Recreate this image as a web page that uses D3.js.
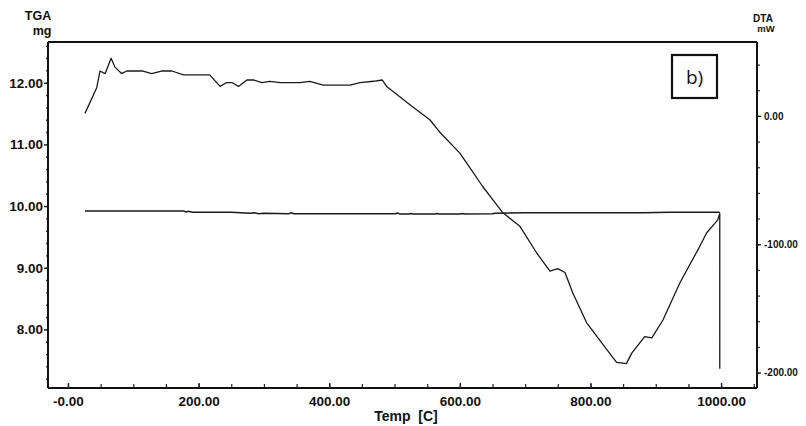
<!DOCTYPE html>
<html>
<head>
<meta charset="utf-8">
<script src="https://cdn.jsdelivr.net/npm/d3@7"></script>
<style>
  body { margin: 0; background: #fff; }
  svg { font-family: "Liberation Sans", Arial, sans-serif; }
</style>
</head>
<body>
<div id="chart"></div>
<script>
const WIDTH = 806;
const HEIGHT = 426;

// DTA curve (right axis, mW) vs temperature
const dtaTemp = [26, 44, 49, 57, 66, 72, 82, 90, 115, 128, 143, 159, 177, 217, 233, 243, 251, 261, 274, 284,
  297, 309, 325, 355, 370, 391, 432, 447, 468, 481, 488, 508, 528, 554, 569, 600, 615, 635, 653, 666, 692,
  718, 738, 750, 761, 773, 794, 819, 840, 855, 863, 883, 894, 911, 937, 967, 978, 995, 998, 998, 998];
const dtaValues = [2, 22, 35, 33, 45, 38, 33, 35, 35, 33, 35, 35, 32, 32, 23, 26, 26, 23, 28, 28,
  26, 27, 26, 26, 27, 24, 24, 26, 27, 28, 23, 15, 7, -3, -12.5, -29, -40, -55, -67, -75.5, -86,
  -107, -121, -119, -122, -138, -161, -178, -192, -193, -185, -172, -173, -159, -130, -102, -91, -81, -76, -135, -197];

// TGA curve (left axis, mg) vs temperature
const tgaTemp = [26, 120, 177, 181, 184, 191, 250, 279, 285, 292, 300, 320, 338, 342, 346, 400, 500, 505, 508,
  522, 525, 528, 562, 565, 568, 600, 604, 608, 650, 654, 658, 700, 780, 845, 880, 922, 960, 998];
const tgaValues = [9.92, 9.92, 9.92, 9.905, 9.915, 9.90, 9.90, 9.885, 9.89, 9.875, 9.885, 9.88, 9.875, 9.89, 9.875,
  9.875, 9.875, 9.885, 9.87, 9.87, 9.88, 9.87, 9.87, 9.88, 9.87, 9.87, 9.88, 9.87, 9.875, 9.885, 9.885,
  9.89, 9.89, 9.89, 9.89, 9.90, 9.90, 9.90];

const tempTicks = [0, 200, 400, 600, 800, 1000];
const tgaTicks = [8, 9, 10, 11, 12];
const dtaTicks = [0, -100, -200];

const svg = d3.select('#chart').append('svg').attr('width', WIDTH).attr('height', HEIGHT);

const plot = { left: 48, right: 757, top: 42, bottom: 388 };

const x = d3.scaleLinear().domain([-30.6, 1055]).range([plot.left, plot.right]);
const yL = d3.scaleLinear().domain([7.05, 12.66]).range([plot.bottom, plot.top]);
const yR = d3.scaleLinear().domain([-212, 57.6]).range([plot.bottom, plot.top]);

const fmt = (d) => (d < 0 ? '-' : '') + Math.abs(d).toFixed(2);

// frame top line
svg.append('line')
  .attr('x1', plot.left).attr('x2', plot.right)
  .attr('y1', plot.top).attr('y2', plot.top)
  .attr('stroke', '#111').attr('stroke-width', 2);

// bottom axis (ticks inside)
const xMinor = d3.range(0, 1051, 50);
svg.append('g')
  .attr('transform', `translate(0,${plot.bottom})`)
  .call(d3.axisBottom(x).tickValues(xMinor).tickSize(-4).tickFormat(''))
  .call((g) => g.select('.domain').remove())
  .call((g) => g.selectAll('line').attr('stroke', '#222').attr('stroke-width', 1.2));
const xAxis = svg.append('g')
  .attr('transform', `translate(0,${plot.bottom})`)
  .call(d3.axisBottom(x).tickValues(tempTicks).tickSize(-5).tickPadding(8)
    .tickFormat((d) => (d === 0 ? '-0.00' : fmt(d))));
xAxis.select('.domain').attr('d', `M${plot.left},0H${plot.right}`).attr('stroke', '#111').attr('stroke-width', 2.2);
xAxis.selectAll('line').attr('stroke', '#222').attr('stroke-width', 1.4);
xAxis.selectAll('text').attr('fill', '#111').attr('font-size', 13.5).attr('font-weight', 'bold');

// left axis
const yLMinor = d3.range(7.2, 12.61, 0.2);
svg.append('g')
  .attr('transform', `translate(${plot.left},0)`)
  .call(d3.axisLeft(yL).tickValues(yLMinor).tickSize(2).tickFormat(''))
  .call((g) => g.select('.domain').remove())
  .call((g) => g.selectAll('line').attr('stroke', '#333').attr('stroke-width', 1.4));
const yLAxis = svg.append('g')
  .attr('transform', `translate(${plot.left},0)`)
  .call(d3.axisLeft(yL).tickValues(tgaTicks).tickSize(4).tickPadding(1).tickFormat(fmt));
yLAxis.select('.domain').attr('d', `M0,${plot.top}V${plot.bottom}`).attr('stroke', '#111').attr('stroke-width', 2);
yLAxis.selectAll('line').attr('stroke', '#222').attr('stroke-width', 1.4);
yLAxis.selectAll('text').attr('fill', '#111').attr('font-size', 13.5).attr('font-weight', 'bold');

// right axis
const yRMinor = d3.range(-200, 41, 20);
svg.append('g')
  .attr('transform', `translate(${plot.right},0)`)
  .call(d3.axisRight(yR).tickValues(yRMinor).tickSize(3).tickFormat(''))
  .call((g) => g.select('.domain').remove())
  .call((g) => g.selectAll('line').attr('stroke', '#333').attr('stroke-width', 1.2));
const yRAxis = svg.append('g')
  .attr('transform', `translate(${plot.right},0)`)
  .call(d3.axisRight(yR).tickValues(dtaTicks).tickSize(4).tickPadding(3).tickFormat(fmt));
yRAxis.select('.domain').attr('d', `M0,${plot.top}V${plot.bottom}`).attr('stroke', '#111').attr('stroke-width', 2);
yRAxis.selectAll('line').attr('stroke', '#222').attr('stroke-width', 1.4);
yRAxis.selectAll('text').attr('fill', '#111').attr('font-size', 10).attr('font-weight', 'bold');

// curves
const tgaLine = d3.line().x((d, i) => x(tgaTemp[i])).y((d) => yL(d));
svg.append('path')
  .datum(tgaValues)
  .attr('d', tgaLine)
  .attr('fill', 'none')
  .attr('stroke', '#1a1a1a')
  .attr('stroke-width', 1.5);

const dtaLine = d3.line().x((d, i) => x(dtaTemp[i])).y((d) => yR(d));
svg.append('path')
  .datum(dtaValues)
  .attr('d', dtaLine)
  .attr('fill', 'none')
  .attr('stroke', '#1a1a1a')
  .attr('stroke-width', 1.3)
  .attr('stroke-linejoin', 'round');

// axis titles
svg.append('text').attr('x', 38).attr('y', 20).attr('text-anchor', 'middle')
  .attr('font-size', 12.5).attr('font-weight', 'bold').attr('fill', '#111').text('TGA');
svg.append('text').attr('x', 42).attr('y', 35).attr('text-anchor', 'middle')
  .attr('font-size', 12.5).attr('font-weight', 'bold').attr('fill', '#111').text('mg');
svg.append('text').attr('x', 763).attr('y', 22).attr('text-anchor', 'middle')
  .attr('font-size', 10).attr('font-weight', 'bold').attr('fill', '#111').text('DTA');
svg.append('text').attr('x', 766).attr('y', 32).attr('text-anchor', 'middle')
  .attr('font-size', 9.5).attr('font-weight', 'bold').attr('fill', '#111').text('mW');
svg.append('text').attr('x', 406).attr('y', 421).attr('text-anchor', 'middle')
  .attr('font-size', 14).attr('font-weight', 'bold').attr('fill', '#111')
  .attr('xml:space', 'preserve').style('white-space', 'pre').text('Temp  [C]');

// panel label
svg.append('rect').attr('x', 672).attr('y', 55).attr('width', 45).attr('height', 43)
  .attr('fill', 'none').attr('stroke', '#111').attr('stroke-width', 2.2);
svg.append('text').attr('x', 694.5).attr('y', 84).attr('text-anchor', 'middle')
  .attr('font-family', '"Open Sans", "DejaVu Sans", sans-serif')
  .attr('font-size', 19).attr('fill', '#111').text('b)');
</script>
</body>
</html>
